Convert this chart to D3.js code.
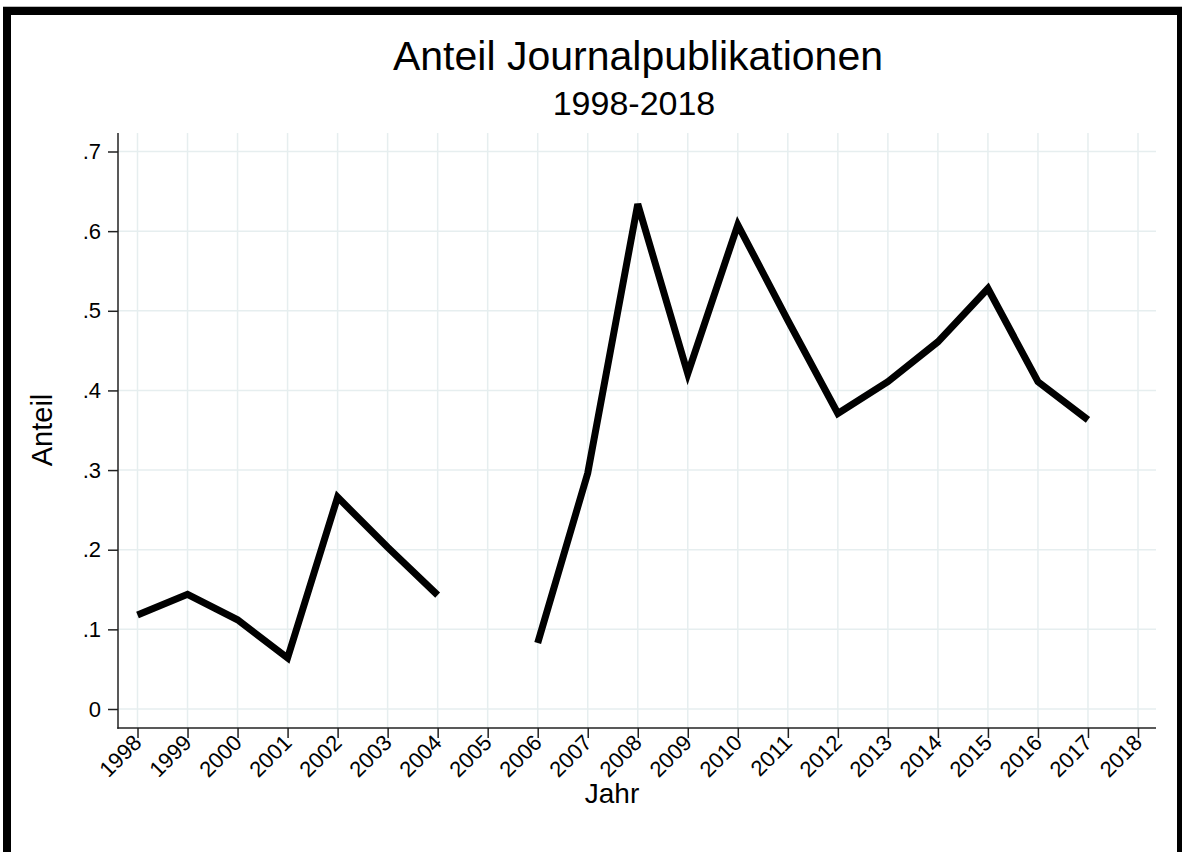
<!DOCTYPE html>
<html>
<head>
<meta charset="utf-8">
<script src="https://cdn.jsdelivr.net/npm/d3@7"></script>
<style>
  html, body { margin: 0; padding: 0; background: #fff; }
  svg { display: block; }
  text { font-family: "Liberation Sans", Arial, sans-serif; fill: #000; }
</style>
</head>
<body>
<svg id="chart" width="1182" height="852"></svg>
<script>
// ---- data ----
const years = [1998, 1999, 2000, 2001, 2002, 2003, 2004, 2005, 2006, 2007, 2008,
               2009, 2010, 2011, 2012, 2013, 2014, 2015, 2016, 2017, 2018];
const anteil = [0.118, 0.144, 0.112, 0.064, 0.266, 0.203, 0.143, null, 0.083, 0.296, 0.634,
                0.421, 0.608, 0.488, 0.371, 0.411, 0.461, 0.528, 0.411, 0.363, null];
const yTicks = [0, 0.1, 0.2, 0.3, 0.4, 0.5, 0.6, 0.7];
const titleText = "Anteil Journalpublikationen";
const subtitleText = "1998-2018";
const xTitle = "Jahr";
const yTitle = "Anteil";

const data = years.map((yr, i) => ({ year: yr, value: anteil[i] }));

const svg = d3.select("#chart");
const W = 1182, H = 852;

// background
svg.append("rect").attr("width", W).attr("height", H).attr("fill", "#fff");

// frame (thick black border, open at bottom)
svg.append("rect").attr("x", 3).attr("y", 6).attr("width", W - 3).attr("height", 1).attr("fill", "#bbb");
svg.append("rect").attr("x", 3).attr("y", 7).attr("width", 8).attr("height", H - 7).attr("fill", "#000");
svg.append("rect").attr("x", 3).attr("y", 7).attr("width", W - 3).attr("height", 8).attr("fill", "#000");
svg.append("rect").attr("x", 1177).attr("y", 7).attr("width", 5).attr("height", H - 7).attr("fill", "#000");

// plot region
const plot = { left: 118, right: 1156, top: 133, bottom: 728 };

const x = d3.scaleLinear().domain([1998, 2018]).range([137.5, 1138]);
const y = d3.scaleLinear().domain([0, 0.7]).range([709, 151.5]);

// gridlines
const grid = svg.append("g").attr("stroke", "#e6eeef").attr("stroke-width", 1.5);
grid.selectAll("line.h").data(yTicks).join("line")
  .attr("x1", plot.left).attr("x2", plot.right)
  .attr("y1", d => y(d)).attr("y2", d => y(d));
grid.selectAll("line.v").data(years).join("line")
  .attr("y1", plot.top).attr("y2", plot.bottom)
  .attr("x1", d => x(d)).attr("x2", d => x(d));

// axes
const axisColor = "#222";
const yAxis = d3.axisLeft(y).tickValues(yTicks).tickSize(10).tickPadding(7)
  .tickFormat(d => d === 0 ? "0" : d3.format(".1f")(d).replace(/^0/, ""));
const gy = svg.append("g").attr("transform", `translate(${plot.left},0)`).call(yAxis);
gy.attr("font-size", 22).attr("font-family", "Liberation Sans, Arial, sans-serif");
gy.select(".domain").remove();
gy.selectAll(".tick line").attr("stroke", axisColor).attr("stroke-width", 1.5);
gy.selectAll(".tick text").attr("fill", "#000");
svg.append("line").attr("x1", plot.left).attr("x2", plot.left)
  .attr("y1", plot.top).attr("y2", plot.bottom + 0.75)
  .attr("stroke", axisColor).attr("stroke-width", 1.5);

const xAxis = d3.axisBottom(x).tickValues(years).tickSize(10).tickFormat(d3.format("d"));
const gx = svg.append("g").attr("transform", `translate(0,${plot.bottom})`).call(xAxis);
gx.attr("font-size", 22).attr("font-family", "Liberation Sans, Arial, sans-serif");
gx.select(".domain").remove();
gx.selectAll(".tick line").attr("stroke", axisColor).attr("stroke-width", 1.5);
gx.selectAll(".tick text")
  .attr("fill", "#000")
  .attr("text-anchor", "end")
  .attr("dy", null).attr("y", 0)
  .attr("transform", "translate(5,16) rotate(-45)");
svg.append("line").attr("x1", plot.left - 0.75).attr("x2", plot.right)
  .attr("y1", plot.bottom).attr("y2", plot.bottom)
  .attr("stroke", axisColor).attr("stroke-width", 1.5);

// line
const line = d3.line()
  .defined(d => d.value !== null)
  .x(d => x(d.year))
  .y(d => y(d.value));
svg.append("path").datum(data)
  .attr("d", line)
  .attr("fill", "none")
  .attr("stroke", "#000")
  .attr("stroke-width", 7)
  .attr("stroke-linejoin", "miter")
  .attr("stroke-linecap", "butt");

// titles
const cx = (plot.left + plot.right) / 2;
svg.append("text").attr("x", cx + 1).attr("y", 70).attr("text-anchor", "middle")
  .attr("font-size", 41).text(titleText);
svg.append("text").attr("x", cx - 3).attr("y", 115).attr("text-anchor", "middle")
  .attr("font-size", 34).text(subtitleText);
svg.append("text").attr("x", 612).attr("y", 803).attr("text-anchor", "middle")
  .attr("font-size", 28).text(xTitle);
svg.append("text").attr("transform", `translate(52,430) rotate(-90)`).attr("text-anchor", "middle")
  .attr("font-size", 29).text(yTitle);
</script>
</body>
</html>
